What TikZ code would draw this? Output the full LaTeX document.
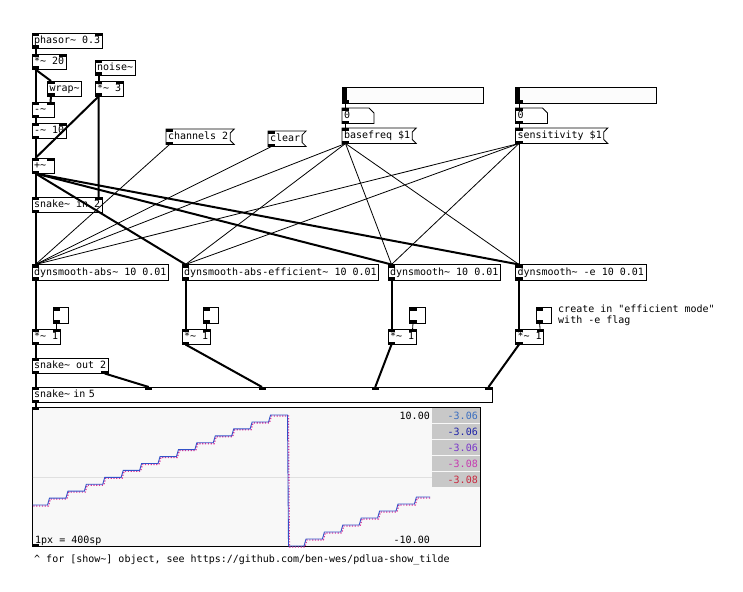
\documentclass[tikz,border=0pt]{standalone}
\usepackage{fontspec}
\newfontfamily\pdfont{DejaVu Sans Mono}
\definecolor{showbg}{HTML}{F8F8F8}
\definecolor{slbg}{HTML}{FCFCFC}
\definecolor{valbg}{HTML}{C8C8C8}
\definecolor{wblue}{HTML}{3352C8}
\definecolor{wpink}{HTML}{DD3399}
\definecolor{valA}{HTML}{3A6EC0}
\definecolor{valB}{HTML}{1E22A8}
\definecolor{valC}{HTML}{7A38C8}
\definecolor{valD}{HTML}{C63AB0}
\definecolor{valE}{HTML}{C8283E}
\newcommand\pdt{\textasciitilde}
% iolets
\newcommand\pdinl[1]{\fill (#1.north west) rectangle ++(7,3);}
\newcommand\pdinr[1]{\fill (#1.north east) rectangle ++(-7,3);}
\newcommand\pdoutl[1]{\fill (#1.south west) rectangle ++(7,-3);}
\newcommand\pdoutr[1]{\fill (#1.south east) rectangle ++(-7,-3);}
% message box with flag
\newcommand\pdmsg[4]{\node[msg] (#1) at (#2,#3) {#4};
  \draw[line width=0.8pt] (#1.north west) -- ([xshift=4pt]#1.north east) -- ([yshift=-4pt]#1.north east)
    -- ([yshift=4pt]#1.south east) -- ([xshift=4pt]#1.south east) -- (#1.south west) -- cycle;
  \pdinl{#1}\pdoutl{#1}}
% number box
\newcommand\pdnum[3]{\node[msg,text width=28pt,align=left] (#1) at (#2,#3) {0};
  \draw[line width=0.8pt] (#1.north west) -- ([xshift=-5pt]#1.north east) -- ([yshift=-5pt]#1.north east)
    -- (#1.south east) -- (#1.south west) -- cycle;
  \pdinl{#1}\pdoutl{#1}}

\begin{document}
\begin{tikzpicture}[x=1pt,y=-1pt,
    box/.style={draw,fill=white,line width=0.8pt,inner xsep=2pt,inner ysep=0pt,
      minimum height=15.5pt,anchor=north west,outer sep=0pt,font=\pdfont,
      text height=7.5pt,text depth=2pt},
    msg/.style={box,draw=none,fill=none},
    tgl/.style={box,minimum width=15.5pt,inner xsep=0pt},
    sig/.style={line width=2pt},
    ctl/.style={line width=0.8pt},
    txt/.style={font=\pdfont,inner sep=0pt},
    jitter/.style={dash pattern=on 1.2pt off 1.6pt}]
\useasboundingbox (0,0) rectangle (743,591);

% oscillator part
\node[box] (phasor) at (32,33) {phasor\pdt{} 0.3};
\pdinl{phasor}\pdinr{phasor}\pdoutl{phasor}
\node[box] (mul20) at (32,54) {*\pdt{} 20};
\pdinl{mul20}\pdinr{mul20}\pdoutl{mul20}
\node[box] (wrap) at (47.5,81) {wrap\pdt};
\pdinl{wrap}\pdoutl{wrap}
\node[box] (noise) at (95,60) {noise\pdt};
\pdinl{noise}\pdoutl{noise}
\node[box] (mul3) at (95,81) {*\pdt{} 3};
\pdinl{mul3}\pdinr{mul3}\pdoutl{mul3}
\node[box,text width=18pt,align=left] (sub) at (32,102) {-\pdt};
\pdinl{sub}\pdinr{sub}\pdoutl{sub}
\node[box] (sub10) at (32,123) {-\pdt{} 10};
\pdinl{sub10}\pdinr{sub10}\pdoutl{sub10}
\node[box,text width=18pt,align=left] (add) at (32,158) {+\pdt};
\pdinl{add}\pdinr{add}\pdoutl{add}
\node[box] (snin2) at (32,197) {snake\pdt{} in 2};
\pdinl{snin2}\pdinr{snin2}\pdoutl{snin2}

% messages
\pdmsg{chan}{166}{129}{channels 2}
\pdmsg{clear}{268}{131}{clear}
\foreach \n/\x in {A/342,B/515.5}{
  \node[box,fill=slbg,minimum width=141pt,minimum height=16pt] (slider\n) at (\x,87) {};
  \fill (slider\n.north west) rectangle ++(4.5,16);
  \pdoutl{slider\n}
  \pdnum{num\n}{\x}{108}
}
\pdmsg{basefreq}{342}{128}{basefreq \$1}
\pdmsg{sens}{515.5}{128}{sensitivity \$1}

% smoothers
\node[box] (dsa) at (32,264.5) {dynsmooth-abs\pdt{} 10 0.01};
\node[box] (dsae) at (182,264.5) {dynsmooth-abs-efficient\pdt{} 10 0.01};
\node[box] (ds) at (388,264.5) {dynsmooth\pdt{} 10 0.01};
\node[box] (dse) at (515.5,264.5) {dynsmooth\pdt{} -e 10 0.01};
\foreach \n/\x/\t in {a/32/53,b/182/203,c/388/409.5,d/515.5/536}{
  \node[tgl] (tgl\n) at (\t,307.5) {};
  \pdinl{tgl\n}\pdoutl{tgl\n}
  \node[box] (gain\n) at (\x,329) {*\pdt{} 1};
  \pdinl{gain\n}\pdinr{gain\n}\pdoutl{gain\n}
}
\foreach \n in {dsa,dsae,ds,dse}{\pdinl{\n}\pdoutl{\n}}
\node[txt,anchor=north west,align=left,font={\pdfont\fontsize{10}{11}\selectfont}] (note) at (558,304.5)
  {create in "efficient mode"\\with -e flag};

\node[box] (snout2) at (32,358) {snake\pdt{} out 2};
\pdinl{snout2}\pdoutl{snout2}\pdoutr{snout2}
\node[box,text width=456pt,align=left] (snin5) at (32,387) {snake\pdt{} in 5};
\foreach \k in {0,...,4}{
  \fill ([xshift=113.25*\k]snin5.north west) rectangle ++(7,3);
  \coordinate (snin5-\k) at ([xshift=3.5+113.25*\k]snin5.north west);
}
\pdoutl{snin5}

% show~ display
\node[box,fill=showbg,minimum width=448.5pt,minimum height=139.5pt] (show) at (32,407) {};
\pdinl{show}\pdoutl{show}
\draw[black!12,line width=0.8pt] (32.5,477.5) -- (432,477.5);
\foreach \r/\c/\v in {0/valA/-3.06,1/valB/-3.06,2/valC/-3.06,3/valD/-3.08,4/valE/-3.08}{
  \fill[valbg] (432,{408+16*\r}) rectangle (480,{423+16*\r});
  \node[txt,anchor=base east,text=\c] at (478,{419+16*\r}) {\v};
}
\node[txt,anchor=base east] (top) at (430,419) {10.00};
\node[txt,anchor=base east] (bot) at (430,543) {-10.00};
\node[txt,anchor=base west] (scale) at (35,543) {1px = 400sp};
\foreach \c/\s/\w/\d in {wpink/0.9/1.3pt/jitter,wblue/0/0.9pt/solid}{
  \draw[\c,line width=\w,shift={(\s,\s)},\d] (32.5,505)
    \foreach \i in {0,...,12}{ -- ({47.5+18.42*\i},{505-6.92*\i}) -- ({49.5+18.42*\i},{505-6.92*(\i+1)}) }
    -- (287.5,415) -- (288.5,546)
    \foreach \i in {0,...,6}{ -- ({304+18.4*\i},{546-7*\i}) -- ({306+18.4*\i},{546-7*(\i+1)}) }
    -- (430,497);
}
\node[txt,anchor=base west] (footer) at (34,562)
  {\textasciicircum{} for [show\pdt] object, see https://github.com/ben-wes/pdlua-show\_tilde};

% signal connections
\draw[sig] ([xshift=3.5pt]phasor.south west) -- ([xshift=3.5pt]mul20.north west);
\draw[sig] ([xshift=3.5pt]mul20.south west) -- ([xshift=3.5pt]wrap.north west);
\draw[sig] ([xshift=3.5pt]mul20.south west) -- ([xshift=3.5pt]sub.north west);
\draw[sig] ([xshift=3.5pt]wrap.south west) -- ([xshift=-3.5pt]sub.north east);
\draw[sig] ([xshift=3.5pt]sub.south west) -- ([xshift=3.5pt]sub10.north west);
\draw[sig] ([xshift=3.5pt]sub10.south west) -- ([xshift=3.5pt]add.north west);
\draw[sig] ([xshift=3.5pt]noise.south west) -- ([xshift=3.5pt]mul3.north west);
\draw[sig] ([xshift=3.5pt]mul3.south west) -- ([xshift=3.5pt]add.north west);
\draw[sig] ([xshift=3.5pt]mul3.south west) -- ([xshift=-3.5pt]snin2.north east);
\draw[sig] ([xshift=3.5pt]add.south west) -- ([xshift=3.5pt]snin2.north west);
\foreach \n in {dsae,ds,dse}
  \draw[sig] ([xshift=3.5pt]add.south west) -- ([xshift=3.5pt]\n.north west);
\draw[sig] ([xshift=3.5pt]snin2.south west) -- ([xshift=3.5pt]dsa.north west);
\foreach \n/\g in {dsa/a,dsae/b,ds/c,dse/d}
  \draw[sig] ([xshift=3.5pt]\n.south west) -- ([xshift=3.5pt]gain\g.north west);
\draw[sig] ([xshift=3.5pt]gaina.south west) -- ([xshift=3.5pt]snout2.north west);
\draw[sig] ([xshift=3.5pt]snout2.south west) -- (snin5-0);
\draw[sig] ([xshift=-3.5pt]snout2.south east) -- (snin5-1);
\draw[sig] ([xshift=3.5pt]gainb.south west) -- (snin5-2);
\draw[sig] ([xshift=3.5pt]gainc.south west) -- (snin5-3);
\draw[sig] ([xshift=3.5pt]gaind.south west) -- (snin5-4);
\draw[sig] ([xshift=3.5pt]snin5.south west) -- ([xshift=3.5pt]show.north west);

% control connections
\foreach \n/\m in {A/basefreq,B/sens}{
  \draw[ctl] ([xshift=3.5pt]slider\n.south west) -- ([xshift=3.5pt]num\n.north west);
  \draw[ctl] ([xshift=3.5pt]num\n.south west) -- ([xshift=3.5pt]\m.north west);
}
\draw[ctl] ([xshift=3.5pt]chan.south west) -- ([xshift=3.5pt]dsa.north west);
\draw[ctl] ([xshift=3.5pt]clear.south west) -- ([xshift=3.5pt]dsa.north west);
\foreach \m in {basefreq,sens}
  \foreach \n in {dsa,dsae,ds,dse}
    \draw[ctl] ([xshift=3.5pt]\m.south west) -- ([xshift=3.5pt]\n.north west);
\foreach \g in {a,b,c,d}
  \draw[ctl] ([xshift=3.5pt]tgl\g.south west) -- ([xshift=-3.5pt]gain\g.north east);
\end{tikzpicture}
\end{document}
